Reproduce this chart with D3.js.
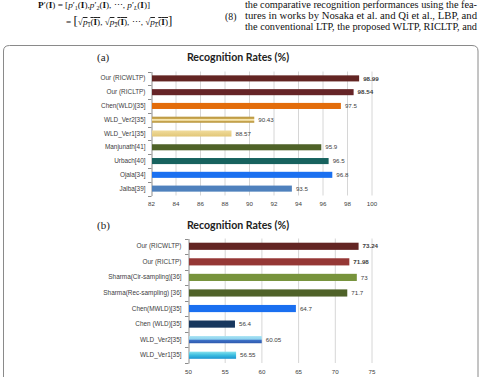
<!DOCTYPE html>
<html>
<head>
<meta charset="utf-8">
<script src="https://cdn.jsdelivr.net/npm/d3@7"></script>
<style>
	body { margin: 0; background: #fff; }
	svg { display: block; }
	.cat { font-family: 'Liberation Sans', Arial, sans-serif; font-size: 6.4px; fill: #404040; }
	.val { font-family: 'Liberation Sans', Arial, sans-serif; font-size: 6.2px; fill: #404040; }
	.tick_txt { font-family: 'Liberation Sans', Arial, sans-serif; font-size: 6.2px; fill: #404040; }
	.title { font-family: Lato, 'Liberation Sans', sans-serif; font-weight: bold; font-size: 10.6px; fill: #222; }
	.panel { font-family: 'Liberation Serif', serif; font-size: 11px; fill: #222; }
	.body_txt { font-family: 'Liberation Serif', serif; font-size: 9.8px; fill: #111; }
	.eq { font-family: 'Liberation Serif', serif; font-size: 9.2px; fill: #111; }
</style>
</head>
<body>
<div id="chart"></div>
<script>
// chart (a)
var catsA = ['Our (RICWLTP)', 'Our (RICLTP)', 'Chen(WLD)[35]', 'WLD_Ver2[35]', 'WLD_Ver1[35]',
	'Manjunath[41]', 'Urbach[40]', 'Ojala[34]', 'Jalba[39]'];
var valsA = [98.99, 98.54, 97.5, 90.43, 88.57, 95.9, 96.5, 96.8, 93.5];
var ticksA = [82, 84, 86, 88, 90, 92, 94, 96, 98, 100];

// chart (b)
var catsB = ['Our (RICWLTP)', 'Our (RICLTP)', 'Sharma(Cir-sampling)[36]', 'Sharma(Rec-sampling) [36]',
	'Chen(MWLD)[35]', 'Chen (WLD)[35]', 'WLD_Ver2[35]', 'WLD_Ver1[35]'];
var valsB = [73.24, 71.98, 73, 71.7, 64.7, 56.4, 60.05, 56.55];
var ticksB = [50, 55, 60, 65, 70, 75];

// bar fills (styles)
var colorA = ['#632523', '#662427', '#e36c0a', 'url(#gA2)', 'url(#gA1)', '#4f6228', '#17625e', '#1a70f0', '#4f81bd'];
var colorB = ['#632523', '#953735', '#77933c', '#4f6228', '#1a6ff0', '#17375e', 'url(#gB2)', 'url(#gB1)'];
var boldTop = 2;

var svg = d3.select('#chart').append('svg')
	.attr('width', 480)
	.attr('height', 377);

var defs = svg.append('defs');
function grad(id, stops) {
	var g = defs.append('linearGradient').attr('id', id)
		.attr('x1', 0).attr('y1', 0).attr('x2', 0).attr('y2', 1);
	stops.forEach(function(s) {
		g.append('stop').attr('offset', s[0]).attr('stop-color', s[1]);
	});
}
grad('gA2', [[0, '#b8963e'], [0.3, '#c9a650'], [0.42, '#f6e6b0'], [0.6, '#f6e6b0'], [0.72, '#c9a650'], [1, '#b8963e']]);
grad('gA1', [[0, '#f0dc9c'], [1, '#e2c677']]);
grad('gB2', [[0, '#a6e2f3'], [0.45, '#8fd3ee'], [0.55, '#3f72c9'], [1, '#2d59ad']]);
grad('gB1', [[0, '#86e2ee'], [0.5, '#3cbde0'], [1, '#1a94d0']]);

// page text above the figure (justified column)
var header = svg.append('g').classed('body_txt', true);
[['the comparative recognition performances using the fea-', 8],
	['tures in works by Nosaka et al. and Qi et al., LBP, and', 19],
	['the conventional LTP, the proposed WLTP, RICLTP, and', 30]].forEach(function(l) {
	header.append('text').attr('x', 245).attr('y', l[1])
		.attr('textLength', 232).attr('lengthAdjust', 'spacingAndGlyphs').text(l[0]);
});
header.append('text').attr('x', 225).attr('y', 20).text('(8)');

var eq = svg.append('g').classed('eq', true);
var eq1 = eq.append('text').attr('x', 38).attr('y', 8);
eq1.append('tspan').style('font-weight', 'bold').text('P');
eq1.append('tspan').text('\u2032(');
eq1.append('tspan').style('font-weight', 'bold').text('I');
eq1.append('tspan').text(') = [');
[['1', false], ['2', false], ['L', true]].forEach(function(s, i) {
	if (i === 2) eq1.append('tspan').text(', \u22EF, ');
	else if (i === 1) eq1.append('tspan').text(',');
	eq1.append('tspan').style('font-style', 'italic').text('p');
	eq1.append('tspan').text('\u2032');
	eq1.append('tspan').attr('dy', 2).style('font-size', '6px').style('font-style', s[1] ? 'italic' : 'normal').text(s[0]);
	eq1.append('tspan').attr('dy', -2).text('(');
	eq1.append('tspan').style('font-weight', 'bold').text('I');
	eq1.append('tspan').text(')');
});
eq1.append('tspan').text(']');

var eq2 = eq.append('text').attr('x', 66).attr('y', 25);
eq2.append('tspan').text('= ');
eq2.append('tspan').style('font-size', '13px').text('[');
[['1', false], ['2', false], ['L', true]].forEach(function(s, i) {
	if (i === 2) eq2.append('tspan').text(', \u22EF, ');
	else if (i === 1) eq2.append('tspan').text(', ');
	eq2.append('tspan').text('\u221A');
	eq2.append('tspan').style('text-decoration', 'overline').style('font-style', 'italic').text('p');
	eq2.append('tspan').attr('dy', 2).style('font-size', '6px').style('text-decoration', 'overline')
		.style('font-style', s[1] ? 'italic' : 'normal').text(s[0]);
	eq2.append('tspan').attr('dy', -2).style('text-decoration', 'overline').text('(');
	eq2.append('tspan').style('font-weight', 'bold').style('text-decoration', 'overline').text('I');
	eq2.append('tspan').style('text-decoration', 'overline').text(')');
});
eq2.append('tspan').style('font-size', '13px').text(']');

// figure frame
svg.append('path')
	.attr('d', 'M3.5,395 V51 Q3.5,45.5 9.5,45.5 H472 Q478,45.5 478,51 V395')
	.attr('fill', 'none')
	.attr('stroke', '#8a8a8a')
	.attr('stroke-width', 1);

function drawPanel(cfg) {
	var x = d3.scaleLinear().domain([cfg.ticks[0], cfg.ticks[cfg.ticks.length - 1]]).range([cfg.left, cfg.right]);
	var y = d3.scaleBand().domain(cfg.cats).range([cfg.top, cfg.bottom]).paddingInner(cfg.pad).paddingOuter(cfg.pad / 2);
	var g = svg.append('g');

	g.append('text').classed('panel', true).attr('x', cfg.labelX).attr('y', cfg.titleY + 4).text(cfg.label);
	g.append('text').classed('title', true).attr('x', cfg.titleX).attr('y', cfg.titleY)
		.attr('dy', '0.35em').attr('text-anchor', 'middle').text('Recognition Rates (%)');

	// grid
	g.selectAll('.grid').data(cfg.ticks.slice(1)).enter().append('line')
		.attr('x1', function(d) { return x(d) + 0.5; })
		.attr('x2', function(d) { return x(d) + 0.5; })
		.attr('y1', cfg.top).attr('y2', cfg.bottom)
		.attr('stroke', '#d6d6d6').attr('stroke-width', 1);

	// x axis labels
	var xAxis = d3.axisBottom(x).tickValues(cfg.ticks).tickSize(0).tickPadding(0);
	var ax = g.append('g').attr('transform', 'translate(0,' + cfg.tickY + ')').call(xAxis);
	ax.select('.domain').remove();
	ax.selectAll('.tick text').attr('class', 'tick_txt').attr('y', 0).attr('dy', '0.35em')
		.attr('fill', null);
	ax.attr('font-family', null).attr('font-size', null);

	// y axis
	var yAxis = d3.axisLeft(y).tickSize(0).tickPadding(cfg.catPad);
	var ay = g.append('g').attr('transform', 'translate(' + (cfg.left + 0.5) + ',0)').call(yAxis);
	ay.attr('font-family', null).attr('font-size', null);
	ay.select('.domain').attr('stroke', '#8c8c8c');
	ay.selectAll('.tick text').attr('class', 'cat').attr('fill', null);
	var step = y.step();
	d3.range(cfg.cats.length + 1).forEach(function(i) {
		var yy = Math.round(cfg.top + i * step) + 0.5;
		g.append('line').attr('x1', cfg.left - 3).attr('x2', cfg.left + 0.5)
			.attr('y1', yy).attr('y2', yy).attr('stroke', '#8c8c8c');
	});

	// bars
	g.selectAll('.bar').data(cfg.vals).enter().append('rect')
		.attr('x', cfg.left + 1)
		.attr('y', function(d, i) { return y(cfg.cats[i]); })
		.attr('width', function(d) { return x(d) - cfg.left - 1; })
		.attr('height', y.bandwidth())
		.attr('fill', function(d, i) { return cfg.colors[i]; });

	g.selectAll('.lbl').data(cfg.vals).enter().append('text')
		.classed('val', true)
		.attr('x', function(d) { return x(d) + 4; })
		.attr('y', function(d, i) { return y(cfg.cats[i]) + y.bandwidth() / 2; })
		.attr('dy', '0.35em')
		.style('font-weight', function(d, i) { return i < boldTop ? 'bold' : 'normal'; })
		.text(function(d) { return d; });
}

drawPanel({
	cats: catsA, vals: valsA, ticks: ticksA, colors: colorA,
	left: 151, right: 371.5, top: 71.5, bottom: 195.5, pad: 0.56, catPad: 6,
	tickY: 204, label: '(a)', labelX: 97, titleX: 238, titleY: 57
});

drawPanel({
	cats: catsB, vals: valsB, ticks: ticksB, colors: colorB,
	left: 188, right: 371.5, top: 238.5, bottom: 363, pad: 0.54, catPad: 7,
	tickY: 372, label: '(b)', labelX: 97, titleX: 238, titleY: 225
});
</script>
</body>
</html>
